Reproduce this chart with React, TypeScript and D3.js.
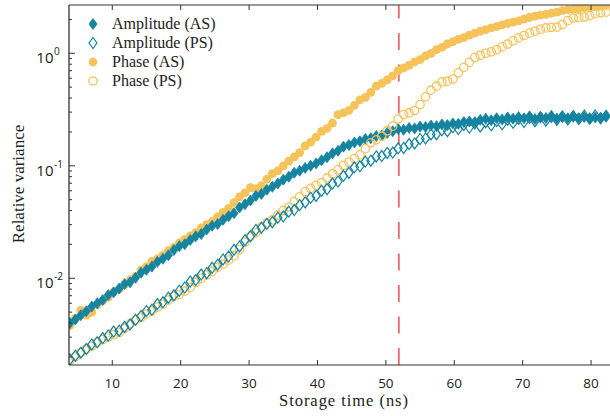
import React from "react";
import * as d3 from "d3";

// storage times (ns)
const times = [
  3.8, 4.6, 5.4, 6.2, 7.0, 7.8, 8.6, 9.4, 10.2, 11.0, 11.8, 12.6, 13.4, 14.2, 15.0, 15.8, 16.6, 17.4, 18.2, 19.0,
  19.8, 20.6, 21.4, 22.2, 23.0, 23.8, 24.6, 25.4, 26.2, 27.0, 27.8, 28.6, 29.4, 30.2, 31.0, 31.8, 32.6, 33.4, 34.2, 35.0,
  35.8, 36.6, 37.4, 38.2, 39.0, 39.8, 40.6, 41.4, 42.2, 43.0, 43.8, 44.6, 45.4, 46.2, 47.0, 47.8, 48.6, 49.4, 50.2, 51.0,
  51.8, 52.6, 53.4, 54.2, 55.0, 55.8, 56.6, 57.4, 58.2, 59.0, 59.8, 60.6, 61.4, 62.2, 63.0, 63.8, 64.6, 65.4, 66.2, 67.0,
  67.8, 68.6, 69.4, 70.2, 71.0, 71.8, 72.6, 73.4, 74.2, 75.0, 75.8, 76.6, 77.4, 78.2, 79.0, 79.8, 80.6, 81.4, 82.2,
];

const ampAS = [
  0.0040, 0.0043, 0.0047, 0.0051, 0.0056, 0.0060, 0.0064, 0.0071, 0.0075, 0.0081, 0.0089, 0.0092, 0.0101, 0.0112, 0.0119, 0.0127, 0.0140, 0.0149, 0.0160, 0.0178,
  0.0193, 0.0201, 0.0219, 0.0236, 0.0247, 0.0271, 0.0293, 0.0303, 0.0331, 0.0356, 0.0379, 0.0425, 0.0455, 0.0492, 0.0540, 0.0562, 0.0612, 0.0650, 0.0695, 0.0752,
  0.0798, 0.0866, 0.0905, 0.0958, 0.1000, 0.1050, 0.1120, 0.1190, 0.1290, 0.1360, 0.1480, 0.1530, 0.1610, 0.1650, 0.1730, 0.1760, 0.1840, 0.1860, 0.1960, 0.2030,
  0.2120, 0.2090, 0.2170, 0.2150, 0.2230, 0.2210, 0.2280, 0.2250, 0.2330, 0.2300, 0.2380, 0.2360, 0.2450, 0.2480, 0.2440, 0.2560, 0.2620, 0.2540, 0.2650, 0.2580,
  0.2690, 0.2620, 0.2710, 0.2640, 0.2750, 0.2600, 0.2720, 0.2660, 0.2780, 0.2620, 0.2700, 0.2640, 0.2760, 0.2650, 0.2720, 0.2600, 0.2690, 0.2640, 0.2730,
];

const ampPS = [
  0.00190, 0.00205, 0.00218, 0.00235, 0.00258, 0.00270, 0.00294, 0.00310, 0.00336, 0.00342, 0.00370, 0.00388, 0.00428, 0.00462, 0.00512, 0.00525, 0.00590, 0.00612, 0.00672, 0.00705,
  0.00775, 0.00828, 0.00935, 0.00965, 0.01080, 0.01110, 0.01240, 0.01320, 0.01470, 0.01560, 0.01790, 0.01920, 0.02180, 0.02370, 0.02690, 0.02810, 0.03050, 0.03150, 0.03460, 0.03540,
  0.03920, 0.04040, 0.04480, 0.04720, 0.05200, 0.05400, 0.06000, 0.06200, 0.06950, 0.07250, 0.08150, 0.08650, 0.09700, 0.09900, 0.10900, 0.11100, 0.12100, 0.12200, 0.13000, 0.13100,
  0.14300, 0.14400, 0.15600, 0.15800, 0.17300, 0.17500, 0.19000, 0.19100, 0.20700, 0.20300, 0.22000, 0.21200, 0.23100, 0.21900, 0.23800, 0.22400, 0.24400, 0.22900, 0.25000, 0.23400,
  0.25700, 0.24100, 0.26100, 0.24500, 0.26600, 0.24900, 0.27000, 0.25200, 0.27200, 0.25600, 0.27500, 0.25800, 0.27600, 0.26100, 0.27900, 0.26300, 0.28000, 0.26500, 0.27800,
];

const phaseAS = [
  0.0038, 0.0044, 0.0052, 0.0047, 0.0050, 0.0058, 0.0063, 0.0068, 0.0076, 0.0080, 0.0088, 0.0097, 0.0104, 0.0118, 0.0127, 0.0142, 0.0149, 0.0160, 0.0176, 0.0188,
  0.0206, 0.0222, 0.0238, 0.0255, 0.0280, 0.0300, 0.0318, 0.0352, 0.0385, 0.0418, 0.0470, 0.0530, 0.0575, 0.0640, 0.0625, 0.0665, 0.0760, 0.0850, 0.0900, 0.1000,
  0.1100, 0.1200, 0.1310, 0.1500, 0.1620, 0.1800, 0.2020, 0.2150, 0.2400, 0.2850, 0.2950, 0.3100, 0.3450, 0.3850, 0.4050, 0.4500, 0.5100, 0.5400, 0.5800, 0.6300,
  0.7000, 0.7400, 0.7800, 0.8400, 0.8800, 0.9500, 1.0000, 1.0800, 1.1300, 1.2100, 1.2700, 1.3300, 1.3800, 1.4500, 1.5100, 1.5700, 1.6200, 1.6800, 1.7300, 1.7900,
  1.8400, 1.8900, 1.9400, 2.0100, 2.0800, 2.1400, 2.1800, 2.2200, 2.2700, 2.3200, 2.3900, 2.4400, 2.4700, 2.5000, 2.5400, 2.5700, 2.6000, 2.6300, 2.6600,
];

const phasePS = [
  0.00185, 0.00200, 0.00220, 0.00235, 0.00250, 0.00270, 0.00285, 0.00300, 0.00315, 0.00330, 0.00360, 0.00395, 0.00425, 0.00450, 0.00480, 0.00515, 0.00555, 0.00590, 0.00640, 0.00690,
  0.00720, 0.00770, 0.00830, 0.00920, 0.01000, 0.01070, 0.01150, 0.01250, 0.01340, 0.01450, 0.01580, 0.01800, 0.02100, 0.02350, 0.02550, 0.02850, 0.03100, 0.03300, 0.03650, 0.04000,
  0.04300, 0.04800, 0.05300, 0.05900, 0.06300, 0.06700, 0.07100, 0.07800, 0.08500, 0.09200, 0.10100, 0.10800, 0.11600, 0.12500, 0.14200, 0.16000, 0.17000, 0.18300, 0.20500, 0.22500,
  0.26000, 0.28500, 0.29500, 0.31000, 0.35000, 0.41000, 0.47000, 0.51000, 0.55600, 0.56500, 0.59000, 0.67000, 0.75000, 0.83000, 0.92000, 0.96000, 1.00000, 1.03000, 1.08000, 1.14000,
  1.21000, 1.29000, 1.37000, 1.44000, 1.51000, 1.57000, 1.63000, 1.68000, 1.70000, 1.71000, 1.80000, 1.95000, 2.06000, 2.08000, 2.10000, 2.16000, 2.25000, 2.29000, 2.32000,
];

const xTicks = [10, 20, 30, 40, 50, 60, 70, 80];
const yMajor = [1e-2, 1e-1, 1];
const yExp = ["-2", "-1", "0"];
const markerTime = 51.9;
const legendLabels = ["Amplitude (AS)", "Amplitude (PS)", "Phase (AS)", "Phase (PS)"];

const BLUE = "#1484a0";
const YELLOW = "#f6c35a";
const RED = "#f25a5e";
const AXIS = "#333";
const SERIF = "'Liberation Serif', 'DejaVu Serif', serif";
const SANS = "'Open Sans', 'DejaVu Sans', sans-serif";

const W = 610;
const H = 416;
const L = 69, R = 610, T = 5, B = 365;

const x = d3.scaleLinear().domain([3.67, 82.77]).range([L, R]);
const y = d3.scaleLog().domain([0.001695, 2.687]).range([B, T]);

const diamond = "M0,-5.5L4,0L0,5.5L-4,0Z";

function Marker({ kind, cx, cy }: { kind: number; cx: number; cy: number }) {
  if (kind === 0)
    return <path d={diamond} transform={`translate(${cx},${cy})`} fill={BLUE} stroke={BLUE} strokeWidth={0.8} />;
  if (kind === 1)
    return <path d={diamond} transform={`translate(${cx},${cy})`} fill="none" stroke={BLUE} strokeWidth={1.2} />;
  if (kind === 2) return <circle cx={cx} cy={cy} r={4.4} fill={YELLOW} />;
  return <circle cx={cx} cy={cy} r={4.2} fill="none" stroke={YELLOW} strokeWidth={1.3} />;
}

export default function App() {
  const series = [ampAS, ampPS, phaseAS, phasePS];
  const drawOrder = [2, 0, 3, 1];

  // minor ticks on the log axis
  const minor: number[] = [];
  for (let e = -3; e <= 0; e++) {
    for (let m = 2; m <= 9; m++) {
      const v = m * Math.pow(10, e);
      if (v >= y.domain()[0] && v <= y.domain()[1]) minor.push(v);
    }
  }

  return (
    <svg width={W} height={H} style={{ position: "absolute", left: 0, top: 0, background: "#fff" }}>
      <defs>
        <clipPath id="plotClip">
          <rect x={L} y={T} width={R - L} height={B - T} />
        </clipPath>
      </defs>

      <g clipPath="url(#plotClip)">
        <line
          x1={x(markerTime)} x2={x(markerTime)} y1={B} y2={T}
          stroke={RED} strokeWidth={1.6} strokeDasharray="17,14.5"
        />
        {drawOrder.map((k) => (
          <g key={k}>
            {series[k].map((v, i) => (
              <Marker key={i} kind={k} cx={x(times[i])} cy={y(v)} />
            ))}
          </g>
        ))}
      </g>

      {/* axes */}
      <line x1={L} x2={R} y1={B} y2={B} stroke={AXIS} strokeWidth={1} />
      <line x1={L} x2={R} y1={T} y2={T} stroke={AXIS} strokeWidth={1} />
      <line x1={L} x2={L} y1={T} y2={B} stroke={AXIS} strokeWidth={1.3} />

      {xTicks.map((t) => (
        <g key={t}>
          <line x1={x(t)} x2={x(t)} y1={B} y2={B - 5} stroke={AXIS} />
          <line x1={x(t)} x2={x(t)} y1={T} y2={T + 5} stroke={AXIS} />
          <text x={x(t)} y={387.5} textAnchor="middle" fontFamily={SANS} fontSize={13.5} fill="#222">
            {t}
          </text>
        </g>
      ))}

      {minor.map((v) => (
        <line key={v} x1={L} x2={L + 3} y1={y(v)} y2={y(v)} stroke={AXIS} />
      ))}
      {yMajor.map((v, i) => (
        <g key={v}>
          <line x1={L} x2={L + 6} y1={y(v)} y2={y(v)} stroke={AXIS} />
          <text x={53.5} y={y(v) + 10} textAnchor="end" fontFamily={SANS} fontSize={15} fill="#222">
            10
          </text>
          <text x={54} y={y(v) + 2} fontFamily={SANS} fontSize={10} fill="#222">
            {yExp[i]}
          </text>
        </g>
      ))}

      <text
        transform={`translate(24,184) rotate(-90)`}
        textAnchor="middle" fontFamily={SERIF} fontSize={17} fill="#222"
      >
        Relative variance
      </text>
      <text
        x={343.5} y={406} textAnchor="middle" fontFamily={SERIF} fontSize={16.5} fill="#222"
        textLength={129} lengthAdjust="spacing"
      >
        Storage time (ns)
      </text>

      {/* legend */}
      {legendLabels.map((lab, k) => (
        <g key={lab}>
          <Marker kind={k} cx={93} cy={24 + k * 19} />
          <text x={112} y={29 + k * 19} fontFamily={SERIF} fontSize={16} fill="#222">
            {lab}
          </text>
        </g>
      ))}
    </svg>
  );
}
